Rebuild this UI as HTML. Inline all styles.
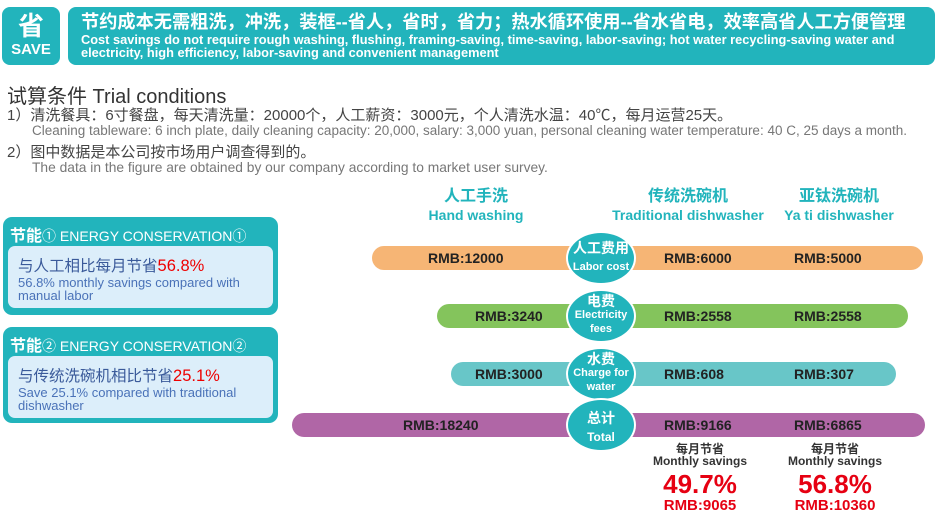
<!DOCTYPE html>
<html><head><meta charset="utf-8"><style>
*{margin:0;padding:0;box-sizing:border-box}
body{width:940px;height:518px;background:#fff;position:relative;overflow:hidden;font-family:"Liberation Sans","Noto Sans CJK SC",sans-serif}
.a{position:absolute;white-space:nowrap}
.teal{background:#22b4bc}
.bar{position:absolute;height:24px;border-radius:12px}
.bl{position:absolute;font-weight:bold;font-size:14px;color:#222;line-height:24px}
.circ{position:absolute;left:566px;width:70px;height:54px;border-radius:50%;background:#22b4bc;color:#fff;text-align:center;font-weight:bold;border:2px solid #fff}
</style></head><body>
<div class="a teal" style="left:2px;top:7px;width:58px;height:58px;border-radius:8px;color:#fff;text-align:center">
<div style="font-size:26px;font-weight:bold;line-height:30px;margin-top:4px">省</div>
<div style="font-size:15px;font-weight:bold;line-height:18px">SAVE</div></div>
<div class="a teal" style="left:68px;top:7px;width:867px;height:58px;border-radius:8px;color:#fff;padding:4px 0 0 13px">
<div style="font-size:18.2px;font-weight:bold;line-height:22px">节约成本无需粗洗，冲洗，装框--省人，省时，省力；热水循环使用--省水省电，效率高省人工方便管理</div>
<div style="font-size:12.8px;font-weight:bold;line-height:13px;white-space:normal;width:850px">Cost savings do not require rough washing, flushing, framing-saving, time-saving, labor-saving; hot water recycling-saving water and electricity, high efficiency, labor-saving and convenient management</div></div>

<div class="a" style="left:7px;top:80px;font-size:20px;color:#333">试算条件 Trial conditions</div>
<div class="a" style="left:7px;top:104px;font-size:15px;color:#444">1）清洗餐具：6寸餐盘，每天清洗量：20000个，人工薪资：3000元，个人清洗水温：40℃，每月运营25天。</div>
<div class="a" style="left:32px;top:123px;font-size:13.5px;color:#777">Cleaning tableware: 6 inch plate, daily cleaning capacity: 20,000, salary: 3,000 yuan, personal cleaning water temperature: 40 C, 25 days a month.</div>
<div class="a" style="left:7px;top:141px;font-size:15px;color:#444">2）图中数据是本公司按市场用户调查得到的。</div>
<div class="a" style="left:32px;top:160px;font-size:13.8px;color:#777">The data in the figure are obtained by our company according to market user survey.</div>

<div class="a teal" style="left:3px;top:217px;width:275px;height:98px;border-radius:9px"></div>
<div class="a" style="left:10px;top:222px;font-size:14px;color:#fff"><b style="font-size:16px">节能</b>① ENERGY CONSERVATION①</div>
<div class="a" style="left:8px;top:246px;width:265px;height:62px;border-radius:7px;background:#dceefa"></div>
<div class="a" style="left:18px;top:254px;font-size:15.5px;color:#3a5a9a">与人工相比每月节省<span style="color:#e00;font-size:16.5px">56.8%</span></div>
<div class="a" style="left:18px;top:276px;font-size:13px;color:#4a72b8;line-height:13px">56.8% monthly savings compared with<br>manual labor</div>

<div class="a teal" style="left:3px;top:327px;width:275px;height:96px;border-radius:9px"></div>
<div class="a" style="left:10px;top:332px;font-size:14px;color:#fff"><b style="font-size:16px">节能</b>② ENERGY CONSERVATION②</div>
<div class="a" style="left:8px;top:356px;width:265px;height:62px;border-radius:7px;background:#dceefa"></div>
<div class="a" style="left:18px;top:364px;font-size:15.5px;color:#3a5a9a">与传统洗碗机相比节省<span style="color:#e00;font-size:16.5px">25.1%</span></div>
<div class="a" style="left:18px;top:386px;font-size:13px;color:#4a72b8;line-height:13px">Save 25.1% compared with traditional<br>dishwasher</div>

<div class="a" style="left:416px;top:188px;width:120px;text-align:center;color:#22b4bc;font-weight:bold;font-size:16px;line-height:18px">人工手洗<br><span style="font-size:14px">Hand washing</span></div>
<div class="a" style="left:593px;top:188px;width:190px;text-align:center;color:#22b4bc;font-weight:bold;font-size:16px;line-height:18px">传统洗碗机<br><span style="font-size:14px">Traditional dishwasher</span></div>
<div class="a" style="left:774px;top:188px;width:130px;text-align:center;color:#22b4bc;font-weight:bold;font-size:16px;line-height:18px">亚钛洗碗机<br><span style="font-size:14px">Ya ti dishwasher</span></div>

<div class="bar" style="left:372px;top:246px;width:551px;background:#f6b575"></div>
<div class="bar" style="left:437px;top:304px;width:471px;background:#84c45c"></div>
<div class="bar" style="left:451px;top:362px;width:445px;background:#68c6c8"></div>
<div class="bar" style="left:292px;top:413px;width:633px;background:#b066a6"></div>

<div class="bl" style="left:428px;top:246px">RMB:12000</div>
<div class="bl" style="left:475px;top:304px">RMB:3240</div>
<div class="bl" style="left:475px;top:362px">RMB:3000</div>
<div class="bl" style="left:403px;top:413px">RMB:18240</div>
<div class="bl" style="left:664px;top:246px">RMB:6000</div>
<div class="bl" style="left:664px;top:304px">RMB:2558</div>
<div class="bl" style="left:664px;top:362px">RMB:608</div>
<div class="bl" style="left:664px;top:413px">RMB:9166</div>
<div class="bl" style="left:794px;top:246px">RMB:5000</div>
<div class="bl" style="left:794px;top:304px">RMB:2558</div>
<div class="bl" style="left:794px;top:362px">RMB:307</div>
<div class="bl" style="left:794px;top:413px">RMB:6865</div>

<div class="circ" style="top:231px;padding-top:7px;font-size:14px;line-height:17px">人工费用<br><span style="font-size:11px">Labor cost</span></div>
<div class="circ" style="top:289px;padding-top:4px;font-size:14px;line-height:12px">电费<br><span style="font-size:11px;line-height:11px">Electricity<br>fees</span></div>
<div class="circ" style="top:347px;padding-top:4px;font-size:14px;line-height:12px">水费<br><span style="font-size:11px;line-height:11px">Charge for<br>water</span></div>
<div class="circ" style="top:398px;padding-top:9px;font-size:14px;line-height:18px">总计<br><span style="font-size:12px">Total</span></div>

<div class="a" style="left:640px;top:443px;width:120px;text-align:center;font-weight:bold;color:#333;font-size:12px;line-height:12px">每月节省<br>Monthly savings</div>
<div class="a" style="left:640px;top:470px;width:120px;text-align:center;font-weight:bold;color:#e60012;font-size:26px;line-height:28px">49.7%</div>
<div class="a" style="left:640px;top:497px;width:120px;text-align:center;font-weight:bold;color:#e60012;font-size:15px;line-height:17px">RMB:9065</div>
<div class="a" style="left:775px;top:443px;width:120px;text-align:center;font-weight:bold;color:#333;font-size:12px;line-height:12px">每月节省<br>Monthly savings</div>
<div class="a" style="left:775px;top:470px;width:120px;text-align:center;font-weight:bold;color:#e60012;font-size:26px;line-height:28px">56.8%</div>
<div class="a" style="left:775px;top:497px;width:120px;text-align:center;font-weight:bold;color:#e60012;font-size:15px;line-height:17px">RMB:10360</div>
</body></html>
